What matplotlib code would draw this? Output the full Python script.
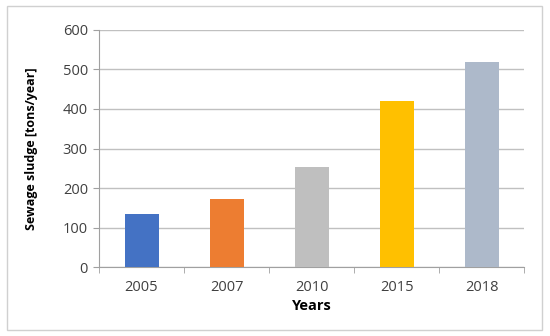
import matplotlib.pyplot as plt
from matplotlib.patches import Rectangle
import numpy as np

years = ["2005", "2007", "2010", "2015", "2018"]
sludge = [134, 173, 253, 420, 518]
colors = ["#4472C4", "#ED7D31", "#BFBFBF", "#FFC000", "#ADB9CA"]

plt.rcParams["font.family"] = ["Open Sans", "DejaVu Sans"]

fig = plt.figure(figsize=(5.5, 3.36), dpi=100)
ax = fig.add_axes([0.18, 0.205, 0.773, 0.706])

# outer chart border
fig.patches.append(Rectangle((7 / 550, 6 / 336), 535 / 550, 324 / 336,
                             transform=fig.transFigure, fill=False,
                             edgecolor="#D0D0D0", linewidth=1))

x = np.arange(len(years))
ax.bar(x, sludge, width=0.4, color=colors, zorder=3)

ax.set_xlim(-0.5, len(years) - 0.5)
ax.set_ylim(0, 600)
ax.set_yticks(range(0, 601, 100))
ax.set_xticks(x)
ax.set_xticklabels(years)
ax.set_xticks(np.arange(-0.5, len(years)), minor=True)
ax.tick_params(axis="x", which="major", length=0, pad=9, labelsize=10.5, colors="#404040")
ax.tick_params(axis="x", which="minor", length=4, color="#A0A0A0")
ax.tick_params(axis="y", length=4, color="#A0A0A0", labelsize=10.5, labelcolor="#404040", pad=4)

ax.grid(axis="y", color="#C0C0C0", linewidth=1, zorder=0)
for s in ["top", "right"]:
    ax.spines[s].set_visible(False)
ax.spines["left"].set_color("#A0A0A0")
ax.spines["bottom"].set_color("#A0A0A0")

ax.set_xlabel("Years", fontweight="bold", fontsize=10.5, labelpad=3)
ax.set_ylabel("Sewage sludge [tons/year]", fontweight="bold", fontsize=9, labelpad=18)

fig.savefig("out.png", dpi=100)
